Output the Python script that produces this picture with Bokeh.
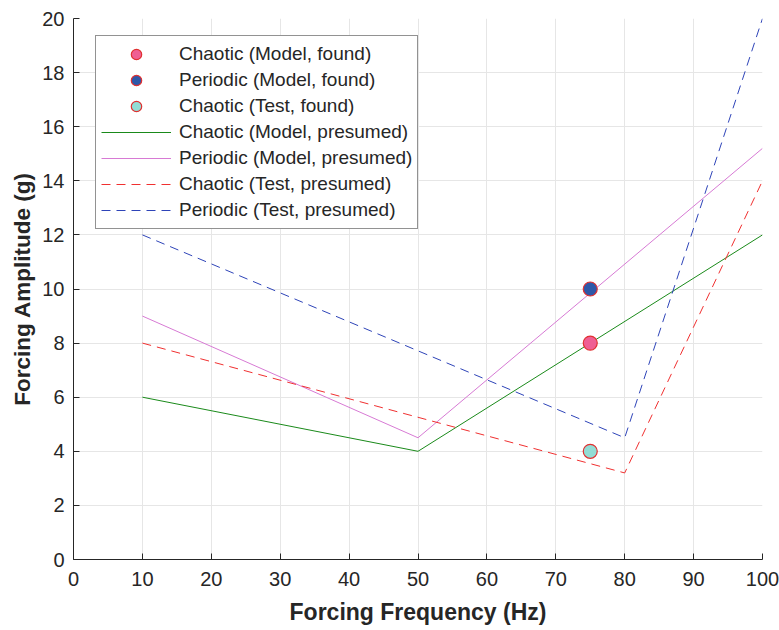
from bokeh.plotting import figure
from bokeh.models import Legend, LegendItem, FixedTicker, Range1d
from bokeh.embed import file_html
from bokeh.resources import INLINE

# found points
found_x = [75]
chaotic_model_found = [8]
periodic_model_found = [10]
chaotic_test_found = [4]

# presumed boundaries
cm_x = [10, 50, 100]
cm_y = [6, 4, 12]
pm_x = [10, 50, 100]
pm_y = [9, 4.5, 15.2]
ct_x = [10, 80, 100]
ct_y = [8, 3.2, 14]
pt_x = [10, 80, 100]
pt_y = [12, 4.5, 20]

x_ticks = list(range(0, 101, 10))
y_ticks = list(range(0, 21, 2))

FONT = "Liberation Sans"

p = figure(width=779, height=630, output_backend="svg", toolbar_location=None,
           x_range=Range1d(0, 100), y_range=Range1d(0, 20),
           min_border_left=73, min_border_right=17, min_border_top=18, min_border_bottom=71)
p.outline_line_color = None
p.background_fill_color = "white"
p.border_fill_color = "white"

for ax in (p.xaxis[0], p.yaxis[0]):
    ax.major_tick_in = 6
    ax.major_tick_out = 0
    ax.minor_tick_in = 0
    ax.minor_tick_out = 0
    ax.axis_line_color = "#262626"
    ax.major_tick_line_color = "#262626"
    ax.major_label_text_font = FONT
    ax.major_label_text_font_size = "20px"
    ax.major_label_text_color = "#262626"
    ax.axis_label_text_font = FONT
    ax.axis_label_text_font_style = "bold"
    ax.axis_label_text_color = "#262626"

p.xaxis.axis_label_text_font_size = "23px"
p.yaxis.axis_label_text_font_size = "22.5px"
p.xaxis.ticker = FixedTicker(ticks=x_ticks)
p.yaxis.ticker = FixedTicker(ticks=y_ticks)
p.xaxis.axis_label = "Forcing Frequency (Hz)"
p.yaxis.axis_label = "Forcing Amplitude (g)"
p.xaxis.major_label_standoff = 12
p.yaxis.major_label_standoff = 9
p.xaxis.axis_label_standoff = 10
p.yaxis.axis_label_standoff = 4

p.xgrid.ticker = FixedTicker(ticks=x_ticks)
p.ygrid.ticker = FixedTicker(ticks=y_ticks)
p.grid.grid_line_color = "#e6e6e6"
p.grid.grid_line_width = 1

l1 = p.line(cm_x, cm_y, line_color="#1a8a1a", line_width=1)
l2 = p.line(pm_x, pm_y, line_color="#d77ad4", line_width=1)
l3 = p.line(ct_x, ct_y, line_color="#f03030", line_width=1, line_dash="9 6")
l4 = p.line(pt_x, pt_y, line_color="#2e44b8", line_width=1, line_dash="9 6")

s1 = p.scatter(found_x, chaotic_model_found, size=14, fill_color="#ef5f93", line_color="#e03030", line_width=1.2)
s2 = p.scatter(found_x, periodic_model_found, size=14, fill_color="#2f58a8", line_color="#e03030", line_width=1.2)
s3 = p.scatter(found_x, chaotic_test_found, size=14, fill_color="#92ddd5", line_color="#e03030", line_width=1.2)

legend = Legend(items=[
    LegendItem(label="Chaotic (Model, found)", renderers=[s1]),
    LegendItem(label="Periodic (Model, found)", renderers=[s2]),
    LegendItem(label="Chaotic (Test, found)", renderers=[s3]),
    LegendItem(label="Chaotic (Model, presumed)", renderers=[l1]),
    LegendItem(label="Periodic (Model, presumed)", renderers=[l2]),
    LegendItem(label="Chaotic (Test, presumed)", renderers=[l3]),
    LegendItem(label="Periodic (Test, presumed)", renderers=[l4]),
], location=(22, 330))
legend.label_text_font = FONT
legend.label_text_font_size = "19px"
legend.label_text_color = "#262626"
legend.label_height = 26
legend.glyph_height = 26
legend.glyph_width = 70
legend.label_standoff = 8
legend.padding = 5
legend.spacing = 0
legend.margin = 0
legend.border_line_color = "#262626"
legend.border_line_width = 1
legend.background_fill_color = "white"
legend.background_fill_alpha = 1
p.add_layout(legend, "center")

open("out.html", "w").write(file_html(p, INLINE))
